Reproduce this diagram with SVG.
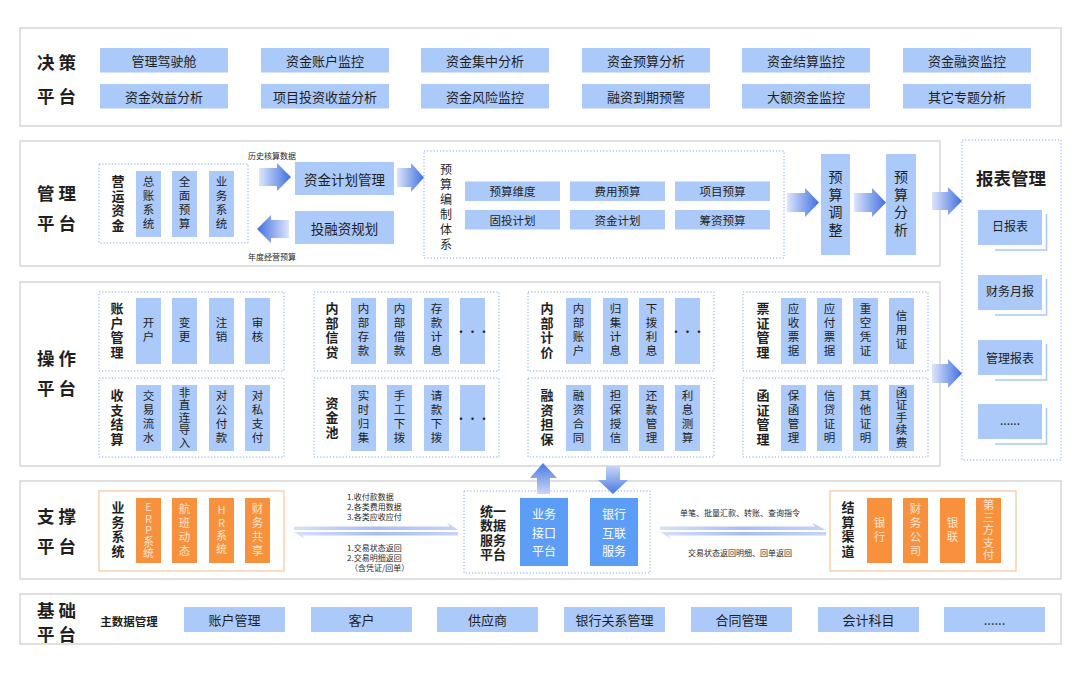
<svg xmlns="http://www.w3.org/2000/svg" width="1080" height="678" viewBox="0 0 1080 678">
<defs>
<style>
text{font-family:"Noto Sans CJK SC","Noto Sans",sans-serif;dominant-baseline:central;fill:#1f1f1f}
.sec{fill:#fff;stroke:#d6d6d6;stroke-width:1.5}
.lb{fill:#abc9f9}
.dot{fill:none;stroke:#7fa4ee;stroke-width:1;stroke-dasharray:1.2 2}
.org{fill:none;stroke:#f8c59b;stroke-width:1.2}
.ob{fill:#f7913d}
.bb{fill:#5b9df7}
.sl{font-size:17.5px;font-weight:700;letter-spacing:4px}
.t13{font-size:13px;text-anchor:middle}
.t12{font-size:12px;text-anchor:middle}
.t11{font-size:11.5px;text-anchor:middle}
.v{writing-mode:vertical-rl;text-orientation:upright;text-anchor:middle}
.gl{font-size:13px;font-weight:700;text-anchor:middle;letter-spacing:1.5px}
.ul{font-family:"Liberation Sans","Noto Sans CJK SC",sans-serif;font-size:13px;font-weight:700;text-anchor:middle}
.vt{font-size:11.5px;text-anchor:middle;letter-spacing:2.5px}
.v5{letter-spacing:1px}
.sm{font-size:8px}
.wt{fill:#fff;font-size:12px;text-anchor:middle}
.ot{fill:#fde4cf;font-size:11.5px;text-anchor:middle;letter-spacing:2.5px}
.shd{fill:none;stroke:#a8c8f8;stroke-width:1.5}
</style>
<linearGradient id="gR" x1="0" y1="0" x2="1" y2="0"><stop offset="0" stop-color="#dde6fb"/><stop offset="1" stop-color="#3f6fe0"/></linearGradient>
<linearGradient id="gL" x1="1" y1="0" x2="0" y2="0"><stop offset="0" stop-color="#dde6fb"/><stop offset="1" stop-color="#3f6fe0"/></linearGradient>
<linearGradient id="gU" x1="0" y1="0" x2="0" y2="1"><stop offset="0" stop-color="#4a78e0"/><stop offset="1" stop-color="#c9d7f8"/></linearGradient>
<linearGradient id="gD" x1="0" y1="0" x2="0" y2="1"><stop offset="0" stop-color="#c9d7f8"/><stop offset="1" stop-color="#4a78e0"/></linearGradient>
<linearGradient id="gT" x1="0" y1="0" x2="1" y2="0"><stop offset="0" stop-color="#d7e1f9"/><stop offset="0.5" stop-color="#a9bdf2"/><stop offset="1" stop-color="#c5d3f7"/></linearGradient>
</defs>
<rect width="1080" height="678" fill="#fff"/>

<!-- Decision platform -->
<g id="decision">
<rect class="sec" x="20" y="28" width="1041" height="98"/>
<text class="sl" x="37" y="61">决策</text>
<text class="sl" x="37" y="95">平台</text>
<rect class="lb" x="100" y="48" width="128" height="24.5"/><text class="t13" x="164" y="60">管理驾驶舱</text>
<rect class="lb" x="261" y="48" width="128" height="24.5"/><text class="t13" x="325" y="60">资金账户监控</text>
<rect class="lb" x="421" y="48" width="128" height="24.5"/><text class="t13" x="485" y="60">资金集中分析</text>
<rect class="lb" x="582" y="48" width="128" height="24.5"/><text class="t13" x="646" y="60">资金预算分析</text>
<rect class="lb" x="742" y="48" width="128" height="24.5"/><text class="t13" x="806" y="60">资金结算监控</text>
<rect class="lb" x="903" y="48" width="128" height="24.5"/><text class="t13" x="967" y="60">资金融资监控</text>
<rect class="lb" x="100" y="84" width="128" height="24.5"/><text class="t13" x="164" y="96">资金效益分析</text>
<rect class="lb" x="261" y="84" width="128" height="24.5"/><text class="t13" x="325" y="96">项目投资收益分析</text>
<rect class="lb" x="421" y="84" width="128" height="24.5"/><text class="t13" x="485" y="96">资金风险监控</text>
<rect class="lb" x="582" y="84" width="128" height="24.5"/><text class="t13" x="646" y="96">融资到期预警</text>
<rect class="lb" x="742" y="84" width="128" height="24.5"/><text class="t13" x="806" y="96">大额资金监控</text>
<rect class="lb" x="903" y="84" width="128" height="24.5"/><text class="t13" x="967" y="96">其它专题分析</text>
</g>

<!-- Management platform -->
<g id="management">
<rect class="sec" x="20" y="141" width="920" height="125"/>
<text class="sl" x="37" y="192">管理</text>
<text class="sl" x="37" y="222">平台</text>
<g id="yyzj">
<rect class="dot" x="99" y="164" width="149" height="79"/>
<text class="gl v" x="118" y="204">营运资金</text>
<rect class="lb" x="136" y="171" width="25" height="66"/><text class="vt v" x="148.5" y="204">总账系统</text>
<rect class="lb" x="172" y="171" width="25" height="66"/><text class="vt v" x="184.5" y="204">全面预算</text>
<rect class="lb" x="209" y="171" width="25" height="66"/><text class="vt v" x="221.5" y="204">业务系统</text>
</g>
<g id="zjjhgl"><rect class="lb" x="295" y="162" width="99" height="33"/><text class="t13" x="344.5" y="178.5" style="font-size:13.5px">资金计划管理</text></g>
<g id="trzgh"><rect class="lb" x="295" y="211" width="99" height="33"/><text class="t13" x="344.5" y="227.5" style="font-size:13.5px">投融资规划</text></g>
<g id="ysbz">
<rect class="dot" x="424" y="151" width="360" height="107"/>
<text class="v" x="446" y="208" style="font-size:12px;letter-spacing:3px">预算编制体系</text>
<rect class="lb" x="465" y="181.5" width="95" height="19.5"/><text class="t11" x="512.5" y="191">预算维度</text>
<rect class="lb" x="570" y="181.5" width="95" height="19.5"/><text class="t11" x="617.5" y="191">费用预算</text>
<rect class="lb" x="675" y="181.5" width="95" height="19.5"/><text class="t11" x="722.5" y="191">项目预算</text>
<rect class="lb" x="465" y="210" width="95" height="19.5"/><text class="t11" x="512.5" y="219.5">固投计划</text>
<rect class="lb" x="570" y="210" width="95" height="19.5"/><text class="t11" x="617.5" y="219.5">资金计划</text>
<rect class="lb" x="675" y="210" width="95" height="19.5"/><text class="t11" x="722.5" y="219.5">筹资预算</text>
</g>
<g id="ystz"><rect class="lb" x="821" y="154" width="29" height="101"/>
<text class="v" x="835.5" y="205" style="font-size:14px;letter-spacing:3.5px">预算调整</text></g>
<g id="ysfx"><rect class="lb" x="886" y="154" width="30" height="101"/>
<text class="v" x="901" y="205" style="font-size:14px;letter-spacing:3.5px">预算分析</text></g>
</g>

<!-- Report management -->
<g id="report">
<rect class="dot" x="962" y="140" width="99" height="320"/>
<text x="1011" y="177" style="font-size:17.5px;font-weight:700;text-anchor:middle">报表管理</text>
<rect class="lb" x="978" y="210" width="64" height="35"/><polyline class="shd" points="1046.5,214 1046.5,250 995,250"/><text class="t12" x="1010" y="225">日报表</text>
<rect class="lb" x="978" y="275" width="64" height="35"/><polyline class="shd" points="1046.5,279 1046.5,315 995,315"/><text class="t12" x="1010" y="290">财务月报</text>
<rect class="lb" x="978" y="340" width="64" height="35"/><polyline class="shd" points="1046.5,344 1046.5,380 995,380"/><text class="t12" x="1010" y="357">管理报表</text>
<rect class="lb" x="978" y="404" width="64" height="35"/><polyline class="shd" points="1046.5,408 1046.5,444 995,444"/><text class="t12" x="1010" y="419">......</text>
</g>

<!-- Operation platform -->
<g id="operation">
<rect class="sec" x="20" y="282" width="920" height="184"/>
<text class="sl" x="37" y="357">操作</text>
<text class="sl" x="37" y="387">平台</text>

<g id="zhgl">
<rect class="dot" x="99" y="292" width="185" height="79"/>
<text class="gl v" x="117" y="331">账户管理</text>
<rect class="lb" x="136" y="298" width="25" height="66"/><text class="vt v" x="148.5" y="331">开户</text>
<rect class="lb" x="172" y="298" width="25" height="66"/><text class="vt v" x="184.5" y="331">变更</text>
<rect class="lb" x="209" y="298" width="25" height="66"/><text class="vt v" x="221.5" y="331">注销</text>
<rect class="lb" x="245" y="298" width="25" height="66"/><text class="vt v" x="257.5" y="331">审核</text>
</g>
<g id="szjs">
<rect class="dot" x="99" y="378" width="185" height="79"/>
<text class="gl v" x="117" y="418">收支结算</text>
<rect class="lb" x="136" y="385" width="25" height="66"/><text class="vt v" x="148.5" y="418">交易流水</text>
<rect class="lb" x="172" y="385" width="25" height="66"/><text class="vt v v5" x="184.5" y="418">非直连导入</text>
<rect class="lb" x="209" y="385" width="25" height="66"/><text class="vt v" x="221.5" y="418">对公付款</text>
<rect class="lb" x="245" y="385" width="25" height="66"/><text class="vt v" x="257.5" y="418">对私支付</text>
</g>

<g id="nbxd">
<rect class="dot" x="314" y="292" width="185" height="79"/>
<text class="gl v" x="332" y="331">内部信贷</text>
<rect class="lb" x="351" y="298" width="25" height="66"/><text class="vt v" x="363.5" y="331">内部存款</text>
<rect class="lb" x="387" y="298" width="25" height="66"/><text class="vt v" x="399.5" y="331">内部借款</text>
<rect class="lb" x="424" y="298" width="25" height="66"/><text class="vt v" x="436.5" y="331">存款计息</text>
<rect class="lb" x="460" y="298" width="25" height="66"/><text class="t11" x="472.5" y="331">···</text>
</g>
<g id="zjc">
<rect class="dot" x="314" y="378" width="185" height="79"/>
<text class="gl v" x="332" y="418">资金池</text>
<rect class="lb" x="351" y="385" width="25" height="66"/><text class="vt v" x="363.5" y="418">实时归集</text>
<rect class="lb" x="387" y="385" width="25" height="66"/><text class="vt v" x="399.5" y="418">手工下拨</text>
<rect class="lb" x="424" y="385" width="25" height="66"/><text class="vt v" x="436.5" y="418">请款下拨</text>
<rect class="lb" x="460" y="385" width="25" height="66"/><text class="t11" x="472.5" y="418">···</text>
</g>

<g id="nbjj">
<rect class="dot" x="528" y="292" width="186" height="79"/>
<text class="gl v" x="547" y="331">内部计价</text>
<rect class="lb" x="566" y="298" width="25" height="66"/><text class="vt v" x="578.5" y="331">内部账户</text>
<rect class="lb" x="603" y="298" width="25" height="66"/><text class="vt v" x="615.5" y="331">归集计息</text>
<rect class="lb" x="639" y="298" width="25" height="66"/><text class="vt v" x="651.5" y="331">下拨利息</text>
<rect class="lb" x="675" y="298" width="25" height="66"/><text class="t11" x="687.5" y="331">···</text>
</g>
<g id="rzdb">
<rect class="dot" x="528" y="378" width="186" height="79"/>
<text class="gl v" x="547" y="418">融资担保</text>
<rect class="lb" x="566" y="385" width="25" height="66"/><text class="vt v" x="578.5" y="418">融资合同</text>
<rect class="lb" x="603" y="385" width="25" height="66"/><text class="vt v" x="615.5" y="418">担保授信</text>
<rect class="lb" x="639" y="385" width="25" height="66"/><text class="vt v" x="651.5" y="418">还款管理</text>
<rect class="lb" x="675" y="385" width="25" height="66"/><text class="vt v" x="687.5" y="418">利息测算</text>
</g>

<g id="pzgl">
<rect class="dot" x="743" y="292" width="185" height="79"/>
<text class="gl v" x="763" y="331">票证管理</text>
<rect class="lb" x="781" y="298" width="25" height="66"/><text class="vt v" x="793.5" y="331">应收票据</text>
<rect class="lb" x="817" y="298" width="25" height="66"/><text class="vt v" x="829.5" y="331">应付票据</text>
<rect class="lb" x="853" y="298" width="25" height="66"/><text class="vt v" x="865.5" y="331">重空凭证</text>
<rect class="lb" x="889" y="298" width="25" height="66"/><text class="vt v" x="901.5" y="331">信用证</text>
</g>
<g id="hzgl">
<rect class="dot" x="743" y="378" width="185" height="79"/>
<text class="gl v" x="763" y="418">函证管理</text>
<rect class="lb" x="781" y="385" width="25" height="66"/><text class="vt v" x="793.5" y="418">保函管理</text>
<rect class="lb" x="817" y="385" width="25" height="66"/><text class="vt v" x="829.5" y="418">信贷证明</text>
<rect class="lb" x="853" y="385" width="25" height="66"/><text class="vt v" x="865.5" y="418">其他证明</text>
<rect class="lb" x="889" y="385" width="25" height="66"/><text class="vt v v5" x="901.5" y="418">函证手续费</text>
</g>
</g>

<!-- Support platform -->
<g id="support">
<rect class="sec" x="20" y="481" width="1041" height="98"/>
<text class="sl" x="37" y="515">支撑</text>
<text class="sl" x="37" y="545">平台</text>
<g id="ywxt">
<rect class="org" x="99" y="491" width="185" height="80"/>
<text class="gl v" x="118" y="530">业务系统</text>
<rect class="ob" x="136" y="498" width="25" height="65"/><text class="ot v" x="148.5" y="530.5" style="font-size:11px;letter-spacing:0.5px">ERP系统</text>
<rect class="ob" x="172" y="498" width="25" height="65"/><text class="ot v" x="184.5" y="530.5">航班动态</text>
<rect class="ob" x="209" y="498" width="25" height="65"/><text class="ot v" x="221.5" y="530.5" style="font-size:11px;letter-spacing:2px">HR系统</text>
<rect class="ob" x="245" y="498" width="25" height="65"/><text class="ot v" x="257.5" y="530.5">财务共享</text>
</g>
<g id="tysjfw">
<rect class="dot" x="464" y="491" width="186" height="82"/>
<text class="ul" x="493" y="511">统一</text>
<text class="ul" x="493" y="525.5">数据</text>
<text class="ul" x="493" y="540">服务</text>
<text class="ul" x="493" y="554.5">平台</text>
<rect class="bb" x="520" y="498" width="48" height="68"/>
<text class="wt"><tspan x="544" y="513">业务</tspan><tspan x="544" y="531.5">接口</tspan><tspan x="544" y="550">平台</tspan></text>
<rect class="bb" x="590" y="498" width="48" height="68"/>
<text class="wt"><tspan x="614" y="513">银行</tspan><tspan x="614" y="531.5">互联</tspan><tspan x="614" y="550">服务</tspan></text>
</g>
<g id="jsqd">
<rect class="org" x="830" y="491" width="186" height="80"/>
<text class="gl v" x="848" y="530">结算渠道</text>
<rect class="ob" x="867" y="498" width="25" height="65"/><text class="ot v" x="879.5" y="530.5">银行</text>
<rect class="ob" x="903" y="498" width="25" height="65"/><text class="ot v" x="915.5" y="530.5">财务公司</text>
<rect class="ob" x="940" y="498" width="25" height="65"/><text class="ot v" x="952.5" y="530.5">银联</text>
<rect class="ob" x="976" y="498" width="25" height="65"/><text class="ot v" x="988.5" y="530.5" style="letter-spacing:1px">第三方支付</text>
</g>
</g>

<!-- Base platform -->
<g id="base">
<rect class="sec" x="20" y="594" width="1041" height="50"/>
<text class="sl" x="37" y="609">基础</text>
<text class="sl" x="37" y="633">平台</text>
<text x="129" y="621" style="font-size:11.5px;font-weight:700;text-anchor:middle">主数据管理</text>
<rect class="lb" x="184" y="607" width="101" height="25"/><text class="t13" x="234.5" y="619.5">账户管理</text>
<rect class="lb" x="311" y="607" width="101" height="25"/><text class="t13" x="361.5" y="619.5">客户</text>
<rect class="lb" x="437" y="607" width="101" height="25"/><text class="t13" x="487.5" y="619.5">供应商</text>
<rect class="lb" x="564" y="607" width="101" height="25"/><text class="t13" x="614.5" y="619.5">银行关系管理</text>
<rect class="lb" x="691" y="607" width="101" height="25"/><text class="t13" x="741.5" y="619.5">合同管理</text>
<rect class="lb" x="818" y="607" width="101" height="25"/><text class="t13" x="868.5" y="619.5">会计科目</text>
<rect class="lb" x="944" y="607" width="101" height="25"/><text class="t13" x="994.5" y="619.5">......</text>
</g>

<!-- Connectors -->
<g id="connectors">
<path d="M259,168 H277 V163 L291,177 L277,191 V186 H259 Z" fill="url(#gR)"/>
<text class="sm" x="272" y="155" text-anchor="middle">历史核算数据</text>
<path d="M289,220 H271 V215 L257,229 L271,243 V238 H289 Z" fill="url(#gL)"/>
<text class="sm" x="272" y="256" text-anchor="middle">年度经营预算</text>
<path d="M397,168 H411 V163 L424,177.5 L411,192 V187 H397 Z" fill="url(#gR)"/>
<path d="M787,193 H805 V188 L819,202.5 L805,217 V212 H787 Z" fill="url(#gR)"/>
<path d="M854,193 H872 V188 L886,202.5 L872,217 V212 H854 Z" fill="url(#gR)"/>
<path d="M932,192 H948 V187 L962,201 L948,215 V210 H932 Z" fill="url(#gR)"/>
<path d="M932,364 H948 V359 L962,373.5 L948,388 V383 H932 Z" fill="url(#gR)"/>
<path d="M543,463 L557,478 H550 V494 H537 V478 H530 Z" fill="url(#gU)"/>
<path d="M606,466 H620 V480 H628 L613,494 L598,480 H606 Z" fill="url(#gD)"/>
<polygon points="294,526.5 450,526.5 447,522.5 458,530 294,530" fill="url(#gT)"/>
<polygon points="458,532 294,532 305,539 302,535.5 458,535.5" fill="url(#gT)"/>
<polygon points="660,526.5 815,526.5 812,522.5 826,530 660,530" fill="url(#gT)"/>
<polygon points="826,532 660,532 671,539 668,535.5 826,535.5" fill="url(#gT)"/>
<text class="sm" x="347" y="496">1.收付款数据</text>
<text class="sm" x="347" y="506">2.各类费用数据</text>
<text class="sm" x="347" y="516">3.各类应收应付</text>
<text class="sm" x="347" y="547">1.交易状态返回</text>
<text class="sm" x="347" y="557">2.交易明细返回</text>
<text class="sm" x="350" y="567">（含凭证/回单）</text>
<text class="sm" x="740" y="512" text-anchor="middle">单笔、批量汇款、转账、查询指令</text>
<text class="sm" x="740" y="552" text-anchor="middle">交易状态返回明细、回单返回</text>
</g>
</svg>
